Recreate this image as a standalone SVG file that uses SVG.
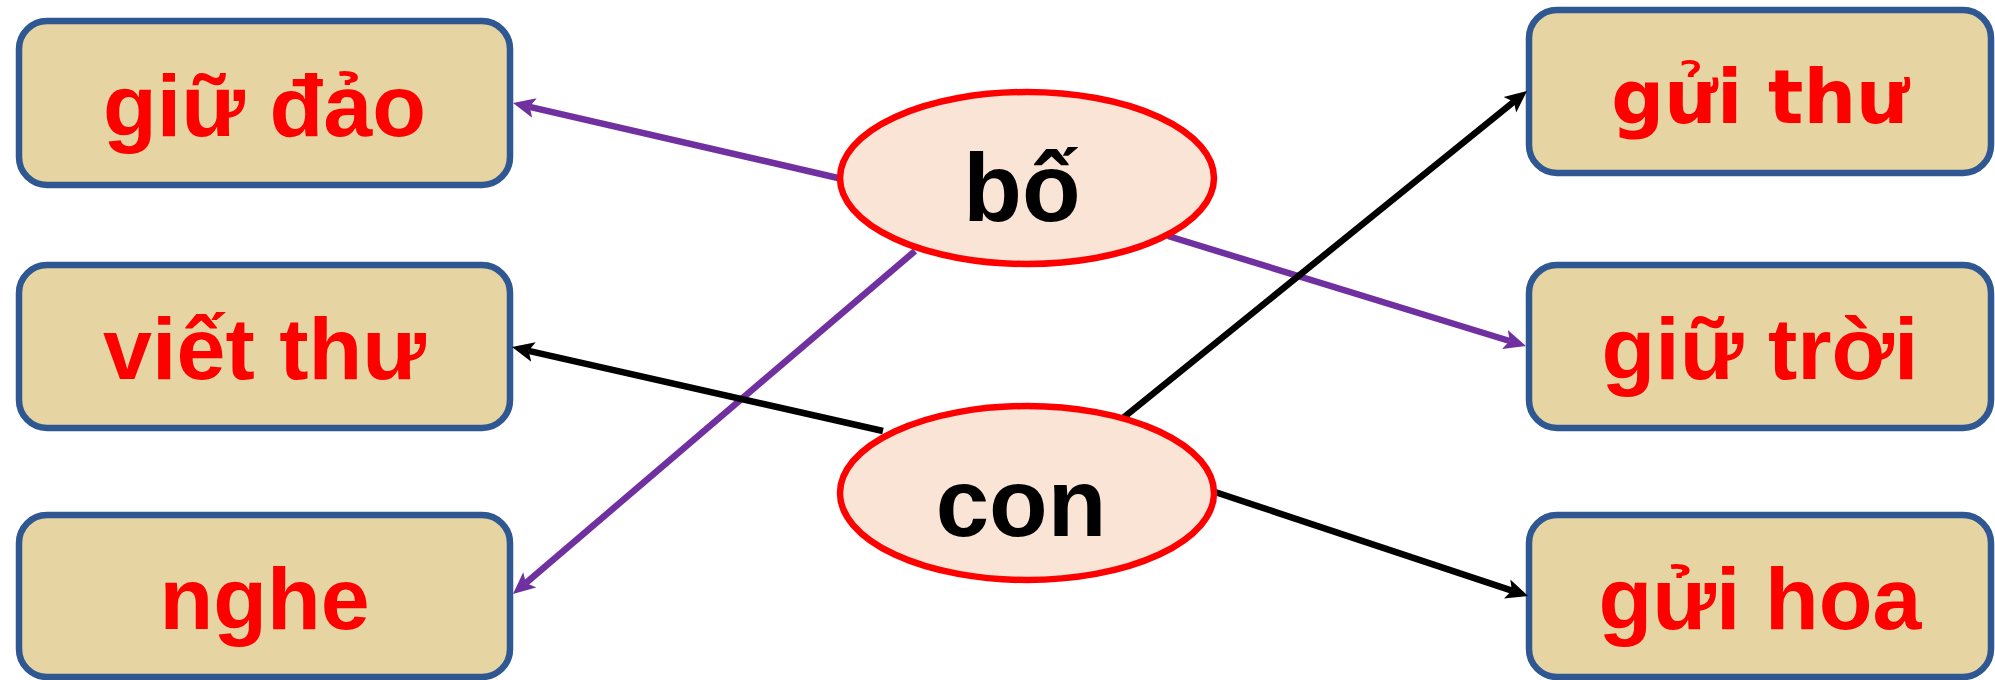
<svg xmlns="http://www.w3.org/2000/svg" width="1995" height="680" viewBox="0 0 1995 680">
  <style>
    .box { fill: #E6D5A2; stroke: #2F5791; stroke-width: 6.5; }
    .ell { fill: #FAE4D6; stroke: #FF0000; stroke-width: 6.5; }
    .bt { font-family: "Liberation Sans", Arial, sans-serif; font-weight: bold; font-size: 88px; fill: #FF0000; text-anchor: middle; }
    .bt2 { font-family: "DejaVu Sans", Verdana, sans-serif; font-weight: bold; font-size: 74px; fill: #FF0000; text-anchor: middle; }
    .et { font-family: "Liberation Sans", Arial, sans-serif; font-weight: bold; font-size: 96px; fill: #000000; text-anchor: middle; }
    .p { stroke: #7030A0; stroke-width: 6.5; fill: none; }
    .k { stroke: #000000; stroke-width: 6.5; fill: none; }
  </style>
  <defs>
    <marker id="ap" markerUnits="userSpaceOnUse" viewBox="0 0 22 22" markerWidth="22" markerHeight="22" refX="5" refY="11" orient="auto">
      <path d="M0,1 L22,11 L0,21 L5,11 z" fill="#7030A0"/>
    </marker>
    <marker id="ak" markerUnits="userSpaceOnUse" viewBox="0 0 22 22" markerWidth="22" markerHeight="22" refX="5" refY="11" orient="auto">
      <path d="M0,1 L22,11 L0,21 L5,11 z" fill="#000000"/>
    </marker>
  </defs>

  <g id="n-giu-dao">
    <rect class="box" x="19" y="21" width="491" height="164" rx="28"/>
    <text class="bt" x="264.5" y="136">giữ đảo</text>
  </g>
  <g id="n-viet-thu">
    <rect class="box" x="19" y="265" width="491" height="163" rx="28"/>
    <text class="bt" x="264.5" y="379">viết thư</text>
  </g>
  <g id="n-nghe">
    <rect class="box" x="19" y="515" width="491" height="162" rx="28"/>
    <text class="bt" x="264.5" y="629">nghe</text>
  </g>
  <g id="n-gui-thu">
    <rect class="box" x="1529" y="10" width="462" height="163" rx="28"/>
    <text class="bt2" x="1760" y="123">gửi thư</text>
  </g>
  <g id="n-giu-troi">
    <rect class="box" x="1529" y="265" width="462" height="163" rx="28"/>
    <text class="bt" x="1760" y="379">giữ trời</text>
  </g>
  <g id="n-gui-hoa">
    <rect class="box" x="1529" y="515" width="462" height="162" rx="28"/>
    <text class="bt" x="1760" y="629">gửi hoa</text>
  </g>

  <g id="connectors">
    <line class="p" x1="838" y1="178" x2="529.6" y2="106.8" marker-end="url(#ap)"/>
    <line class="p" x1="1168" y1="236" x2="1509.7" y2="341" marker-end="url(#ap)"/>
    <line class="p" x1="915" y1="251" x2="525.9" y2="583" marker-end="url(#ap)"/>
    <line class="k" x1="883" y1="431" x2="528.6" y2="350.8" marker-end="url(#ak)"/>
    <line class="k" x1="1123" y1="418" x2="1513.8" y2="101.7" marker-end="url(#ak)"/>
    <line class="k" x1="1215" y1="492" x2="1511.9" y2="590.6" marker-end="url(#ak)"/>
  </g>

  <g id="n-bo">
    <ellipse class="ell" cx="1027" cy="178" rx="187" ry="86"/>
    <text class="et" x="1022" y="221">bố</text>
  </g>
  <g id="n-con">
    <ellipse class="ell" cx="1027" cy="493" rx="187" ry="87"/>
    <text class="et" x="1021" y="536">con</text>
  </g>
</svg>
